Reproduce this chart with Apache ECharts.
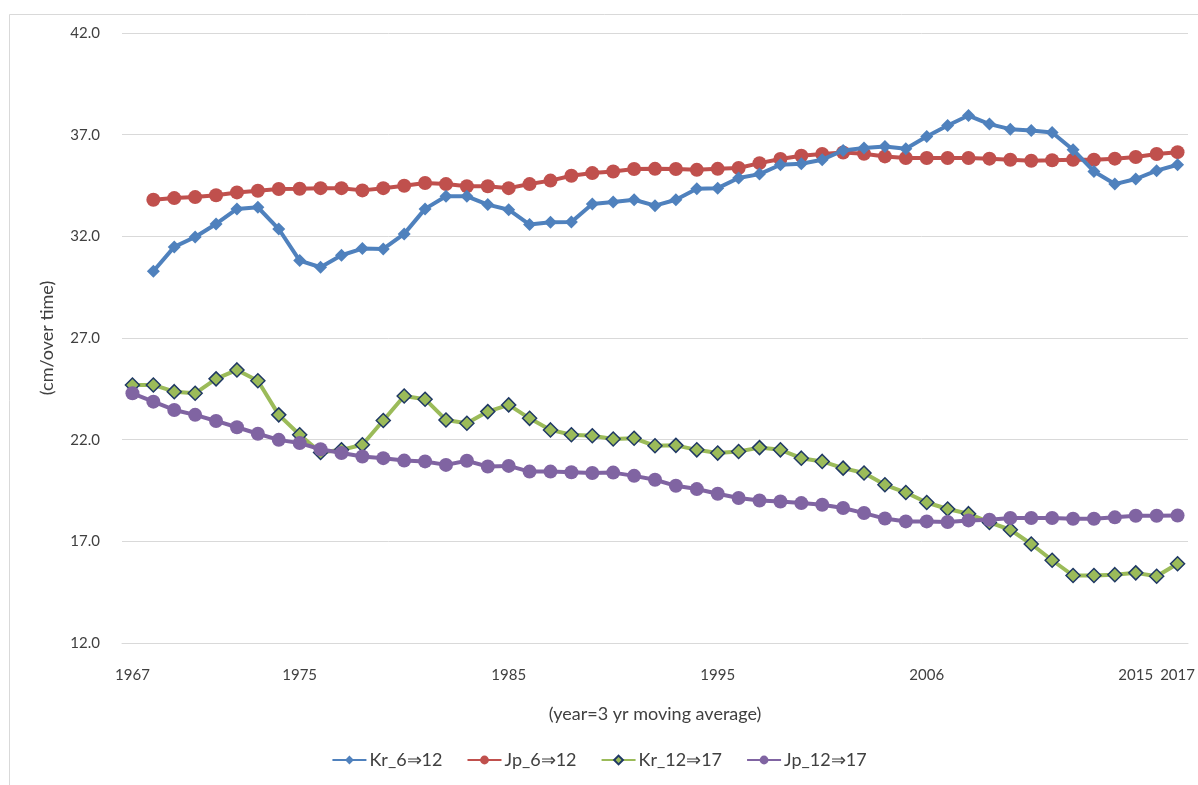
<!DOCTYPE html>
<html>
<head>
<meta charset="utf-8">
<script src="https://cdn.jsdelivr.net/npm/echarts@6/dist/echarts.min.js"></script>
<style>
html,body{margin:0;padding:0;background:#fff;}
#chart{width:1198px;height:785px;}
</style>
</head>
<body>
<div id="chart"></div>
<script>
const years = ['1967','1968','1969','1970','1971','1972','1973','1974','1975','1976',
  '1977','1978','1979','1980','1981','1982','1983','1984','1985','1986',
  '1987','1988','1989','1990','1991','1992','1993','1994','1995','1996',
  '1997','1998','1999','2000','2001','2002','2003','2004','2005','2006',
  '2007','2008','2009','2010','2011','2012','2013','2014','2015','2016','2017'];
const tickYears  = ['1967','1975','1985','1995','2005','2015','2017'];
const tickLabels = ['1967','1975','1985','1995','2006','2015','2017'];

const seriesNames = ['Kr_6⇒12','Jp_6⇒12','Kr_12⇒17','Jp_12⇒17'];

const kr6to12 = [null,30.28,31.48,31.97,32.61,33.35,33.43,32.36,30.81,30.48,
  31.07,31.40,31.38,32.12,33.35,33.97,33.97,33.56,33.31,32.58,
  32.69,32.71,33.59,33.69,33.80,33.51,33.80,34.34,34.37,34.87,
  35.06,35.52,35.57,35.77,36.22,36.34,36.42,36.31,36.91,37.45,
  37.94,37.52,37.27,37.21,37.11,36.26,35.19,34.57,34.82,35.23,35.52];

const jp6to12 = [null,33.80,33.88,33.93,34.02,34.16,34.24,34.33,34.34,34.37,
  34.37,34.26,34.37,34.49,34.62,34.57,34.46,34.46,34.37,34.57,
  34.74,34.98,35.11,35.19,35.31,35.32,35.31,35.27,35.32,35.36,
  35.60,35.80,35.96,36.05,36.12,36.06,35.93,35.85,35.85,35.85,
  35.85,35.82,35.77,35.72,35.74,35.77,35.77,35.82,35.90,36.05,36.14];

const kr12to17 = [24.69,24.69,24.36,24.28,24.99,25.43,24.90,23.22,22.24,21.37,
  21.50,21.75,22.94,24.15,23.99,22.97,22.81,23.38,23.71,23.05,
  22.48,22.24,22.19,22.03,22.07,21.70,21.72,21.50,21.34,21.42,
  21.61,21.50,21.09,20.93,20.60,20.36,19.78,19.40,18.91,18.59,
  18.36,17.93,17.57,16.87,16.07,15.32,15.32,15.36,15.45,15.28,15.90];

const jp12to17 = [24.28,23.87,23.46,23.22,22.92,22.61,22.29,21.99,21.83,21.53,
  21.34,21.17,21.09,20.97,20.93,20.76,20.96,20.68,20.71,20.43,
  20.43,20.40,20.36,20.38,20.22,20.03,19.73,19.57,19.34,19.13,
  19.01,18.96,18.88,18.80,18.64,18.39,18.12,17.98,17.98,17.95,
  18.03,18.06,18.15,18.15,18.15,18.11,18.11,18.18,18.26,18.26,18.27];

const FONT = 'Lato, "Open Sans", sans-serif';
const chart = echarts.init(document.getElementById('chart'), null, {renderer:'canvas'});

const option = {
  backgroundColor: '#ffffff',
  animation: false,
  graphic: [{
    type: 'rect', left: 7, top: 12, z: -10,
    shape: {x: 0, y: 0, width: 1200, height: 800},
    style: {fill: 'none', stroke: '#d9d9d9', lineWidth: 1}
  }],
  grid: {left: 122, right: 10, top: 33, bottom: 142, containLabel: false},
  legend: {
    bottom: 11, left: 'center', itemGap: 24, itemWidth: 34, itemHeight: 11,
    textStyle: {fontFamily: FONT, fontSize: 18, color: '#404040', padding: [0, 0, 0, -2]},
    data: seriesNames
  },
  xAxis: {
    type: 'category',
    data: years,
    boundaryGap: true,
    name: '(year=3 yr moving average)',
    nameLocation: 'middle',
    nameGap: 62,
    nameTextStyle: {fontFamily: FONT, fontSize: 18, color: '#404040'},
    axisLine: {show: true, lineStyle: {color: '#d9d9d9', width: 1}},
    axisTick: {show: false},
    splitLine: {show: false},
    axisLabel: {
      fontFamily: FONT, fontSize: 15, color: '#404040', margin: 25,
      interval: function (idx, val) { return tickYears.indexOf(val) >= 0; },
      formatter: function (val) { const k = tickYears.indexOf(val); return k >= 0 ? tickLabels[k] : ''; }
    }
  },
  yAxis: {
    type: 'value',
    min: 12, max: 42, interval: 5,
    name: '(cm/over time)',
    nameLocation: 'middle',
    nameGap: 66,
    nameRotate: 90,
    nameTextStyle: {fontFamily: FONT, fontSize: 18, color: '#404040'},
    axisLine: {show: false},
    axisTick: {show: false},
    splitLine: {show: true, lineStyle: {color: '#d9d9d9', width: 1}},
    axisLabel: {
      fontFamily: FONT, fontSize: 15, color: '#404040', margin: 22,
      formatter: function (v) { return v.toFixed(1); }
    }
  },
  series: [
    {
      name: seriesNames[0], type: 'line', data: kr6to12,
      symbol: 'diamond', symbolSize: 13, showAllSymbol: true,
      lineStyle: {color: '#4F81BD', width: 4},
      itemStyle: {color: '#4F81BD'}, z: 3
    },
    {
      name: seriesNames[1], type: 'line', data: jp6to12,
      symbol: 'circle', symbolSize: 14, showAllSymbol: true,
      lineStyle: {color: '#C0504D', width: 4},
      itemStyle: {color: '#C0504D'}, z: 2
    },
    {
      name: seriesNames[2], type: 'line', data: kr12to17,
      symbol: 'diamond', symbolSize: 14, showAllSymbol: true,
      lineStyle: {color: '#9BBB59', width: 4},
      itemStyle: {color: '#9BBB59', borderColor: '#1F3864', borderWidth: 1.5}, z: 3
    },
    {
      name: seriesNames[3], type: 'line', data: jp12to17,
      symbol: 'circle', symbolSize: 14, showAllSymbol: true,
      lineStyle: {color: '#8064A2', width: 4},
      itemStyle: {color: '#8064A2'}, z: 4
    }
  ]
};
chart.setOption(option);
</script>
</body>
</html>
